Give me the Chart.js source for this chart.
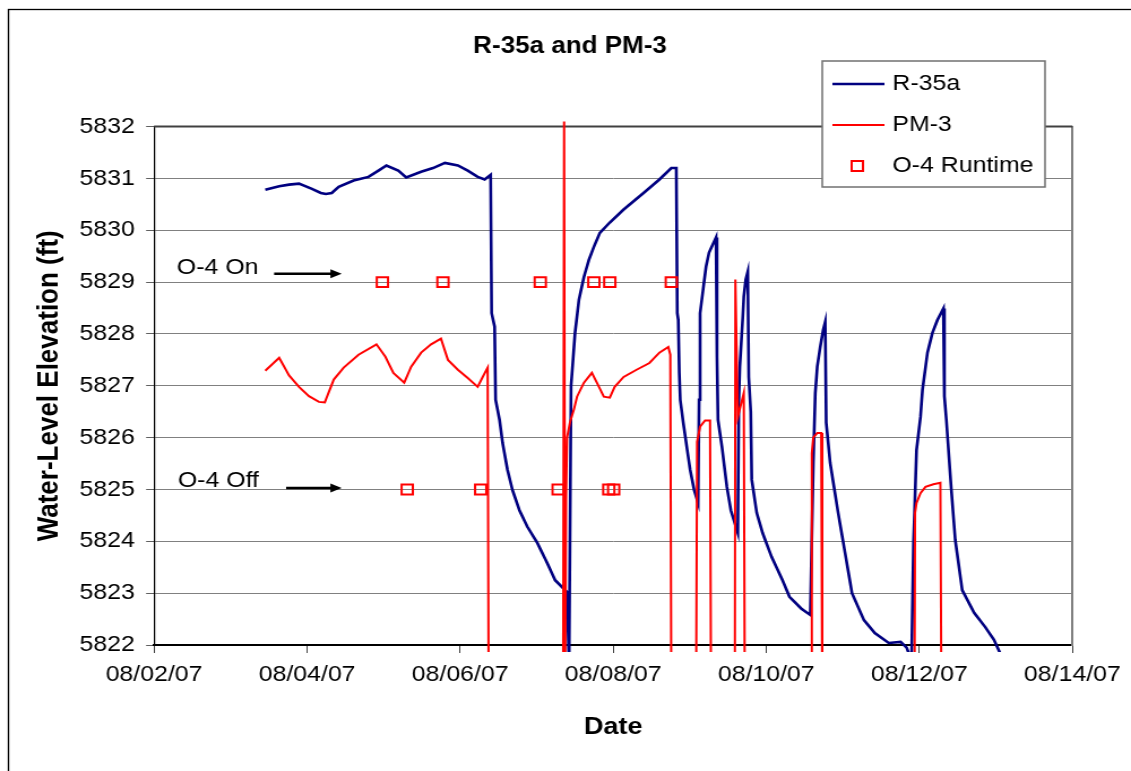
<!DOCTYPE html>
<html>
<head>
<meta charset="utf-8">
<title>R-35a and PM-3</title>
<script src="https://cdn.jsdelivr.net/npm/chart.js@4.4.1/dist/chart.umd.min.js"></script>
<style>
    html, body { margin: 0; padding: 0; background: #fff; overflow: hidden; }
</style>
</head>
<body>
<!-- the original picture is stretched sideways, so draw 1000 wide and show it 1131 wide -->
<canvas id="chart" width="1000" height="771" style="width:1131px;height:771px;display:block"></canvas>
<script>
// x values are days after 08/02/07 00:00
const xTickLabels = ['08/02/07', '08/04/07', '08/06/07', '08/08/07', '08/10/07', '08/12/07', '08/14/07'];

const r35aDays = [
    1.453, 1.635, 1.764, 1.894, 2.063, 2.179, 2.244, 2.322, 2.413, 2.608,
    2.802, 2.932, 3.036, 3.191, 3.295, 3.490, 3.645, 3.801, 3.970, 4.099,
    4.229, 4.320, 4.398, 4.411, 4.450, 4.463, 4.515, 4.554, 4.618, 4.683,
    4.774, 4.878, 5.008, 5.137, 5.241, 5.397, 5.423, 5.449, 5.462, 5.501,
    5.552, 5.617, 5.682, 5.747, 5.825, 5.955, 6.136, 6.396, 6.603, 6.759,
    6.824, 6.837, 6.850, 6.863, 6.876, 6.915, 6.967, 7.005, 7.057, 7.109,
    7.122, 7.135, 7.174, 7.213, 7.252, 7.343, 7.356, 7.369, 7.421, 7.485,
    7.537, 7.628, 7.641, 7.654, 7.693, 7.706, 7.732, 7.758, 7.771, 7.797,
    7.810, 7.875, 7.952, 8.069, 8.212, 8.303, 8.459, 8.575, 8.614, 8.640,
    8.666, 8.705, 8.744, 8.770, 8.783, 8.835, 8.939, 9.029, 9.120, 9.276,
    9.418, 9.600, 9.756, 9.834, 9.898, 9.924, 9.937, 9.963, 10.015, 10.041,
    10.106, 10.171, 10.236, 10.314, 10.327, 10.353, 10.418, 10.469, 10.560, 10.716,
    10.859, 10.975, 11.053
];
const r35aLevel = [
    5830.78, 5830.85, 5830.88, 5830.90, 5830.80, 5830.72, 5830.70, 5830.72, 5830.84, 5830.96,
    5831.03, 5831.15, 5831.25, 5831.15, 5831.02, 5831.13, 5831.20, 5831.30, 5831.25, 5831.15,
    5831.03, 5830.98, 5831.07, 5828.40, 5828.14, 5826.73, 5826.34, 5825.90, 5825.38, 5824.99,
    5824.60, 5824.28, 5823.97, 5823.58, 5823.25, 5823.02, 5821.60, 5827.00, 5827.25, 5828.02,
    5828.66, 5829.10, 5829.43, 5829.68, 5829.95, 5830.15, 5830.40, 5830.72, 5830.98, 5831.20,
    5831.20, 5828.40, 5828.27, 5827.25, 5826.73, 5826.29, 5825.76, 5825.38, 5824.99, 5824.74,
    5826.73, 5828.40, 5828.85, 5829.30, 5829.57, 5829.86, 5827.56, 5826.34, 5825.82, 5825.05,
    5824.60, 5824.16, 5826.70, 5827.37, 5828.33, 5828.72, 5829.05, 5829.20, 5827.17, 5826.50,
    5825.19, 5824.55, 5824.16, 5823.70, 5823.25, 5822.93, 5822.70, 5822.58, 5825.50, 5826.86,
    5827.37, 5827.75, 5828.08, 5828.23, 5826.29, 5825.51, 5824.55, 5823.78, 5823.00, 5822.48,
    5822.23, 5822.04, 5822.06, 5821.95, 5821.70, 5824.00, 5824.55, 5825.76, 5826.40, 5826.92,
    5827.64, 5828.02, 5828.27, 5828.49, 5826.80, 5826.34, 5824.99, 5824.03, 5823.06, 5822.62,
    5822.35, 5822.10, 5821.85
];

const pm3Days = [
    1.453, 1.635, 1.764, 1.894, 2.024, 2.154, 2.231, 2.348, 2.478, 2.672,
    2.906, 3.023, 3.127, 3.269, 3.360, 3.490, 3.620, 3.749, 3.840, 3.970,
    4.099, 4.229, 4.294, 4.359, 4.372, 5.345, 5.358, 5.371, 5.384, 5.397,
    5.436, 5.488, 5.527, 5.617, 5.721, 5.786, 5.877, 5.955, 6.019, 6.136,
    6.305, 6.473, 6.603, 6.720, 6.746, 6.759, 7.083, 7.096, 7.135, 7.200,
    7.265, 7.278, 7.589, 7.596, 7.628, 7.706, 7.719, 8.588, 8.595, 8.614,
    8.666, 8.718, 8.731, 9.937, 9.944, 9.963, 10.015, 10.080, 10.184, 10.275,
    10.288
];
const pm3Level = [
    5827.29, 5827.54, 5827.20, 5826.98, 5826.80, 5826.69, 5826.68, 5827.12, 5827.35, 5827.60,
    5827.80, 5827.56, 5827.25, 5827.06, 5827.37, 5827.64, 5827.80, 5827.91, 5827.50, 5827.31,
    5827.15, 5826.98, 5827.17, 5827.35, 5821.00, 5821.00, 5832.10, 5821.00, 5824.80, 5826.00,
    5826.30, 5826.55, 5826.79, 5827.06, 5827.25, 5827.06, 5826.79, 5826.77, 5826.98, 5827.17,
    5827.31, 5827.44, 5827.64, 5827.75, 5827.60, 5821.00, 5821.00, 5825.92, 5826.21, 5826.33,
    5826.33, 5821.00, 5821.00, 5829.05, 5826.40, 5826.86, 5821.00, 5821.00, 5825.70, 5826.00,
    5826.09, 5826.09, 5821.00, 5821.00, 5824.55, 5824.74, 5824.93, 5825.05, 5825.10, 5825.13,
    5821.00
];

// O-4 runtime marks: 5829 = on, 5825 = off
const runtimeDays = [2.984, 3.775, 5.047, 5.747, 5.955, 6.759, 3.308, 4.268, 5.280, 5.942, 6.006];
const runtimeLevel = [5829, 5829, 5829, 5829, 5829, 5829, 5825, 5825, 5825, 5825, 5825];

const COLORS = {
    r35a: '#000080',
    pm3: '#FF0000',
    grid: '#808080',
    frame: '#404040',
    text: '#000000'
};
const FONT = "'Liberation Sans', Arial, sans-serif";

const toPoints = (xs, ys) => xs.map((x, i) => ({ x: x, y: ys[i] }));

// text + arrow notes, placed in data units
const notes = [
    { text: 'O-4 On', x: 0.298, y: 5829.27, from: 1.569, to: 2.452, arrowY: 5829.16 },
    { text: 'O-4 Off', x: 0.311, y: 5825.17, from: 1.726, to: 2.452, arrowY: 5825.03 }
];

const legendItems = [
    { label: 'R-35a', kind: 'line', color: COLORS.r35a, width: 2.5 },
    { label: 'PM-3', kind: 'line', color: COLORS.pm3, width: 2 },
    { label: 'O-4 Runtime', kind: 'square', color: COLORS.pm3, width: 2 }
];

// frame round the whole picture, plot border, notes and legend
const decorPlugin = {
    id: 'decor',
    beforeDraw(chart) {
        const ctx = chart.ctx;
        ctx.save();
        ctx.fillStyle = '#fff';
        ctx.fillRect(0, 0, chart.width, chart.height);
        ctx.strokeStyle = '#000';
        ctx.lineWidth = 1.3;
        ctx.strokeRect(7.5, 9.5, chart.width + 20, chart.height + 20);
        ctx.restore();
    },
    beforeDatasetsDraw(chart) {
        const ctx = chart.ctx;
        const a = chart.chartArea;
        ctx.save();
        ctx.strokeStyle = COLORS.frame;
        ctx.lineWidth = 2;
        ctx.beginPath();
        ctx.moveTo(a.left, a.top);
        ctx.lineTo(a.right, a.top);
        ctx.stroke();
        ctx.restore();
    },
    afterDraw(chart) {
        const ctx = chart.ctx;
        const xs = chart.scales.x;
        const ys = chart.scales.y;
        ctx.save();

        // notes
        ctx.font = '22px ' + FONT;
        ctx.fillStyle = COLORS.text;
        ctx.strokeStyle = COLORS.text;
        ctx.textBaseline = 'middle';
        ctx.textAlign = 'left';
        notes.forEach(n => {
            ctx.fillText(n.text, xs.getPixelForValue(n.x), ys.getPixelForValue(n.y));
            const x0 = xs.getPixelForValue(n.from);
            const x1 = xs.getPixelForValue(n.to);
            const y = ys.getPixelForValue(n.arrowY);
            ctx.lineWidth = 2.5;
            ctx.beginPath();
            ctx.moveTo(x0, y);
            ctx.lineTo(x1 - 8, y);
            ctx.stroke();
            ctx.beginPath();
            ctx.moveTo(x1, y);
            ctx.lineTo(x1 - 10, y - 4.5);
            ctx.lineTo(x1 - 10, y + 4.5);
            ctx.closePath();
            ctx.fill();
        });

        // legend box
        const box = { left: 727, top: 61, right: 924, bottom: 187 };
        ctx.fillStyle = '#fff';
        ctx.fillRect(box.left, box.top, box.right - box.left, box.bottom - box.top);
        ctx.strokeStyle = '#707070';
        ctx.lineWidth = 1.5;
        ctx.strokeRect(box.left, box.top, box.right - box.left, box.bottom - box.top);
        const rows = [84, 125, 166];
        legendItems.forEach((item, i) => {
            const y = rows[i];
            ctx.strokeStyle = item.color;
            ctx.lineWidth = item.width;
            if (item.kind === 'line') {
                ctx.beginPath();
                ctx.moveTo(736, y);
                ctx.lineTo(782, y);
                ctx.stroke();
            } else {
                ctx.strokeRect(753, y - 5, 10, 10);
            }
            ctx.fillStyle = COLORS.text;
            ctx.font = '22px ' + FONT;
            ctx.textBaseline = 'middle';
            ctx.fillText(item.label, 789, y);
        });
        ctx.restore();
    }
};

Chart.defaults.font.family = FONT;
Chart.defaults.color = COLORS.text;

new Chart(document.getElementById('chart').getContext('2d'), {
    type: 'scatter',
    data: {
        datasets: [
            {
                label: 'R-35a',
                data: toPoints(r35aDays, r35aLevel),
                showLine: true,
                borderColor: COLORS.r35a,
                borderWidth: 2.6,
                pointRadius: 0,
                tension: 0,
                clip: { left: 0, right: 0, top: 7, bottom: 7 },
                order: 3
            },
            {
                label: 'PM-3',
                data: toPoints(pm3Days, pm3Level),
                showLine: true,
                borderColor: COLORS.pm3,
                borderWidth: 2,
                pointRadius: 0,
                tension: 0,
                clip: { left: 0, right: 0, top: 7, bottom: 7 },
                order: 2
            },
            {
                label: 'O-4 Runtime',
                data: toPoints(runtimeDays, runtimeLevel),
                showLine: false,
                pointStyle: 'rect',
                pointRadius: 7,
                pointBorderWidth: 2,
                pointBorderColor: COLORS.pm3,
                pointBackgroundColor: 'rgba(0,0,0,0)',
                order: 1
            }
        ]
    },
    options: {
        responsive: false,
        devicePixelRatio: 1,
        animation: false,
        events: [],
        layout: { padding: { left: 8, right: 0, top: 0, bottom: 0 } },
        plugins: {
            legend: { display: false },
            tooltip: { enabled: false },
            title: {
                display: true,
                text: 'R-35a and PM-3',
                font: { size: 23, weight: 'bold' },
                color: COLORS.text,
                padding: { top: 33, bottom: 66 }
            }
        },
        scales: {
            x: {
                type: 'linear',
                min: 0,
                max: 12,
                border: { color: '#000', width: 2 },
                grid: { drawOnChartArea: false, tickLength: 8, tickColor: '#404040' },
                ticks: {
                    stepSize: 2,
                    padding: 9,
                    maxRotation: 0,
                    font: { size: 22 },
                    color: COLORS.text,
                    callback: (v) => xTickLabels[v / 2]
                },
                title: {
                    display: true,
                    text: 'Date',
                    font: { size: 24, weight: 'bold' },
                    color: COLORS.text,
                    padding: { top: 0, bottom: 29 }
                },
                afterFit: (s) => { s.height = 126; }
            },
            y: {
                min: 5822,
                max: 5832,
                border: { color: '#000', width: 1.2 },
                grid: { color: COLORS.grid, lineWidth: 1, tickLength: 7, tickColor: '#606060' },
                ticks: {
                    stepSize: 1,
                    padding: 10,
                    font: { size: 22 },
                    color: COLORS.text,
                    callback: (v) => String(v)
                },
                title: {
                    display: true,
                    text: 'Water-Level Elevation (ft)',
                    font: { size: 26, weight: 'bold' },
                    color: COLORS.text,
                    padding: { top: 20.6, bottom: 0 }
                },
                afterFit: (s) => { s.width = 128.2; }
            },
            y2: {
                position: 'right',
                min: 5822,
                max: 5832,
                border: { color: COLORS.grid, width: 2 },
                grid: { drawOnChartArea: false, drawTicks: false },
                ticks: { display: false },
                afterFit: (s) => { s.width = 46; }
            }
        }
    },
    plugins: [decorPlugin]
});
</script>
</body>
</html>
